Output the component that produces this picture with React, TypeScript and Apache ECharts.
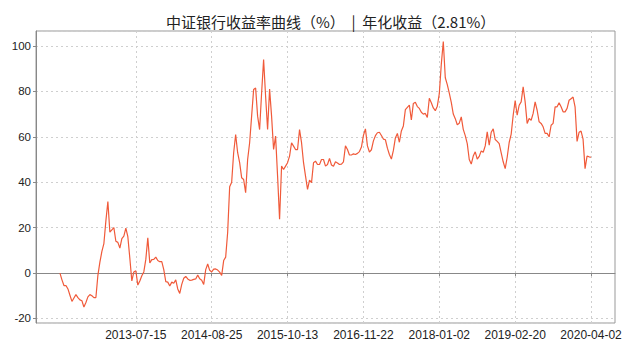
import React, { useEffect, useRef } from 'react';
import * as echarts from 'echarts';

const titleText = '中证银行收益率曲线（%）  |  年化收益（2.81%）';
const tickLabels = ['2013-07-15', '2014-08-25', '2015-10-13', '2016-11-22', '2018-01-02', '2019-02-20', '2020-04-02'];
const tickStep = 38;
const edgePad = 12;

const returnsPart1 = [
  0, -3, -5.5, -5.5, -7, -9.8, -12.5, -11, -9.5, -10.8,
  -11.8, -12.2, -15, -13, -10.5, -9.5, -10, -10.8, -10.8, -1,
  4.8, 9.5, 13, 23, 31.5, 18, 19, 20, 14, 13.5,
  11, 15.2, 16.3, 19.8, 16, 6.5, -3.5, 0.5, 1, -5.3,
  -3.5, -1.2, 0.5, 6, 15.5,
];
const returnsPart2 = [
  4.4, 5.9, 6, 7, 5.5, 5, 5, 1.5, -3.8, -4,
  -5.7, -4, -4.5, -3, -7, -9, -5, -2.3, -1.5, -2.6,
  -3.2, -3.1, -2.8, -2.6, -0.9, -2.5, -3.2, -5, 1.5, 4,
  1.2, 0.5, 1.7, 1.8, 1.3, 0.4, -1, 5.5, 7, 18,
  38, 40, 53, 61,
];
const returnsPart3 = [
  53, 48.6, 42, 41.2, 35.4, 50, 57.4, 69.1, 80.8, 81.5,
  69.1, 63.2, 79.3, 94, 77.9, 63.2, 81, 69, 54.4, 60.3,
  42.7, 23.7, 47.1, 45.6, 47.1, 48.6, 51.5, 57.4, 55.9, 54.4,
  54.4, 63.2, 57.4, 48.6, 42.7, 36.8, 40.9, 39.8, 48.6, 49.3,
  47.8, 47.8, 50, 50, 47.1, 47.8,
];
const returnsPart4 = [
  50.5, 47.6, 47, 49, 48.5, 47.8, 48, 49, 56, 54.4,
  52, 52, 52.5, 52.2, 52.7, 53.5, 55.5, 60.6, 63.5, 56,
  53.3, 54.3, 58.2, 60.5, 61.8, 62, 60.6, 59, 58.7, 55,
  52.2, 50.2, 54, 59.5, 61.5, 57.6, 62.6, 64.8, 72, 73,
  74, 67.4, 74.7, 75.2, 73.3,
];
const returnsPart5 = [
  72.5, 70.8, 70, 70.3, 68.5, 77, 75, 72.7, 71.5, 73.5,
  79, 92, 102, 86, 83, 79.2, 75.2, 70, 68, 65.3,
  66, 68.8, 63.3, 60.5, 57, 50, 48, 51.5, 53.4, 50.2,
  51.4, 53.8, 53.2, 56, 62.2, 56.3, 62, 63.5, 58.8, 58,
  57, 52.9, 49, 46, 51,
];
const returnsPart6 = [
  57.5, 61.2, 69.5, 76, 69.5, 73.9, 75.4, 82, 75.4, 65.9,
  68.1, 67.3, 70.3, 75.4, 71.7, 66.6, 65.9, 64.4, 61.5, 61.5,
  60, 65.1, 65.9, 73.2, 73.2, 75, 73.2, 71, 71, 72.5,
  76.1, 76.8, 77.5, 73.2, 58, 62, 62.5, 59, 46, 51.5,
  51.2, 51,
];

const returns = [...returnsPart1, ...returnsPart2, ...returnsPart3, ...returnsPart4, ...returnsPart5, ...returnsPart6];

export default function App() {
  const ref = useRef<HTMLDivElement>(null);
  useEffect(() => {
    if (!ref.current) return;
    const chart = echarts.init(ref.current, null, { renderer: 'svg' });
    const total = returns.length + 2 * edgePad;
    const categories = Array.from({ length: total }, (_, k) => String(k - edgePad));
    const seriesData = categories.map((_, k) => {
      const i = k - edgePad;
      return i >= 0 && i < returns.length ? returns[i] : null;
    });
    const isTick = (k: number) => {
      const i = k - edgePad;
      return i > 0 && i % tickStep === 0 && i / tickStep <= tickLabels.length;
    };
    const gridLine = { color: '#cfcfcf', type: [2, 3] as number[], width: 1 };
    chart.setOption({
      animation: false,
      backgroundColor: '#ffffff',
      title: {
        text: titleText,
        left: 161,
        top: 9,
        textStyle: { fontFamily: 'Noto Sans CJK SC', fontSize: 15, fontWeight: 'normal', color: '#222' },
      },
      grid: { left: 36, right: 25, top: 31, bottom: 32, show: true, borderColor: '#999', borderWidth: 1 },
      xAxis: {
        type: 'category',
        data: categories,
        boundaryGap: false,
        axisLine: { lineStyle: { color: '#888' } },
        axisTick: { show: true, interval: (k: number) => isTick(k), length: 3, lineStyle: { color: '#888' } },
        axisLabel: {
          interval: (k: number) => isTick(k),
          formatter: (v: string) => {
            const i = Number(v);
            return tickLabels[i / tickStep - 1] ?? '';
          },
          margin: 6,
          fontSize: 12,
          color: '#222',
          fontFamily: 'Liberation Sans',
        },
        splitLine: { show: true, interval: (k: number) => isTick(k), lineStyle: gridLine },
      },
      yAxis: {
        type: 'value',
        min: -22,
        max: 106.6,
        splitNumber: 6,
        axisLine: { show: true, lineStyle: { color: '#888' } },
        axisTick: { show: true, length: 3, lineStyle: { color: '#888' } },
        axisLabel: { showMinLabel: false, showMaxLabel: false, margin: 5, fontSize: 11.5, color: '#222', fontFamily: 'Liberation Sans' },
        splitLine: { show: true, lineStyle: gridLine },
      },
      series: [
        {
          type: 'line',
          data: seriesData,
          showSymbol: false,
          symbol: 'none',
          lineStyle: { color: '#f05a3a', width: 1.2 },
        },
      ],
    });
    return () => chart.dispose();
  }, []);
  return <div ref={ref} style={{ position: 'fixed', left: 0, top: 0, width: 640, height: 355 }} />;
}
